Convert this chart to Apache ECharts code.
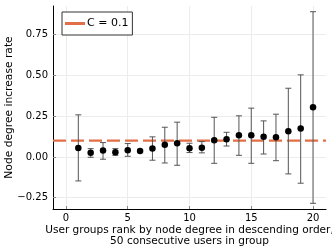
<!DOCTYPE html>
<html>
<head>
<meta charset="utf-8">
<script src="https://cdn.jsdelivr.net/npm/echarts@6/dist/echarts.min.js"></script>
<style>html,body{margin:0;padding:0;background:#fff;}#c{width:332px;height:249px;}</style>
</head>
<body>
<div id="c"></div>
<script>
const ranks = [1,2,3,4,5,6,7,8,9,10,11,12,13,14,15,16,17,18,19,20];
const means = [0.055,0.025,0.039,0.029,0.041,0.037,0.051,0.074,0.084,0.053,0.057,0.102,0.108,0.133,0.133,0.123,0.121,0.158,0.174,0.305];
const lower = [-0.147,-0.002,-0.014,0.010,0.004,0.031,-0.020,-0.037,-0.051,0.027,0.025,-0.039,0.067,0.010,-0.039,0.018,-0.023,-0.104,-0.161,-0.284];
const upper = [0.258,0.051,0.088,0.051,0.082,0.043,0.123,0.182,0.213,0.084,0.094,0.243,0.151,0.252,0.299,0.221,0.262,0.421,0.503,0.890];
const xTicks = [0,5,10,15,20];
const yTicks = [-0.25,0,0.25,0.5,0.75];
const cValue = 0.1;
const xRange = [-1.05, 21.05];
const yRange = [-0.319, 0.925];

const FONT = 'DejaVu Sans';
const chart = echarts.init(document.getElementById('c'), null, {renderer:'canvas'});
const errData = ranks.map((r,i)=>[r, lower[i], upper[i]]);
chart.setOption({
  animation:false,
  textStyle:{fontFamily:FONT},
  grid:{left:53, right:6, top:6, bottom:40, containLabel:false, outerBoundsMode:'none'},
  legend:{
    left:62, top:12, orient:'vertical',
    data:[{name:'C = 0.1', icon:'rect'}],
    itemWidth:20, itemHeight:3, itemGap:0,
    padding:[6,4,6,3],
    borderColor:'#333', borderWidth:1, backgroundColor:'#fff',
    textStyle:{fontFamily:FONT, fontSize:11, color:'#000', padding:[0,0,0,-3]}
  },
  xAxis:{
    type:'value', min:xRange[0], max:xRange[1],
    name:'User groups rank by node degree in descending order,\n50 consecutive users in group',
    nameLocation:'middle', nameGap:15, nameMoveOverlap:false,
    nameTextStyle:{fontFamily:FONT, fontSize:10.55, color:'#000', lineHeight:11.7, verticalAlign:'top'},
    axisLine:{onZero:false, lineStyle:{color:'#000', width:1}},
    axisTick:{inside:true, length:3, lineStyle:{color:'#888'}, customValues:xTicks},
    axisLabel:{customValues:xTicks, fontSize:10, color:'#000', margin:4, fontFamily:FONT},
    splitLine:{show:true, lineStyle:{color:'#ececec', width:1}}
  },
  yAxis:{
    type:'value', min:yRange[0], max:yRange[1],
    name:'Node degree increase rate',
    nameLocation:'middle', nameGap:38, nameMoveOverlap:false,
    nameTextStyle:{fontFamily:FONT, fontSize:10.7, color:'#000'},
    axisLine:{show:true, onZero:false, lineStyle:{color:'#000', width:1}},
    axisTick:{show:true, inside:true, length:3, lineStyle:{color:'#888'}, customValues:yTicks},
    axisLabel:{customValues:yTicks, fontSize:10, color:'#000', margin:5, fontFamily:FONT,
      formatter:v=>(v<0?'\u2212':'')+Math.abs(v).toFixed(2)},
    splitLine:{show:true, lineStyle:{color:'#ececec', width:1}}
  },
  series:[
    {
      name:'C = 0.1', type:'line', data:[[xRange[0],cValue],[xRange[1],cValue]],
      symbol:'none', z:3,
      itemStyle:{color:'#E26F46'},
      lineStyle:{color:'#E26F46', width:2.2, type:[13,5]}
    },
    {
      name:'err', type:'custom', data:errData, z:4,
      renderItem:function(params, api){
        const x = api.value(0);
        const lo = api.coord([x, api.value(1)]);
        const hi = api.coord([x, api.value(2)]);
        const hw = 3;
        const st = {stroke:'#555', lineWidth:1};
        return {type:'group', children:[
          {type:'line', shape:{x1:lo[0],y1:lo[1],x2:hi[0],y2:hi[1]}, style:st},
          {type:'line', shape:{x1:lo[0]-hw,y1:lo[1],x2:lo[0]+hw,y2:lo[1]}, style:st},
          {type:'line', shape:{x1:hi[0]-hw,y1:hi[1],x2:hi[0]+hw,y2:hi[1]}, style:st}
        ]};
      }
    },
    {
      name:'mean', type:'scatter', data:ranks.map((r,i)=>[r,means[i]]),
      symbol:'circle', symbolSize:6.5, z:5,
      itemStyle:{color:'#000', opacity:1, borderWidth:0}
    }
  ]
});
</script>
</body>
</html>
